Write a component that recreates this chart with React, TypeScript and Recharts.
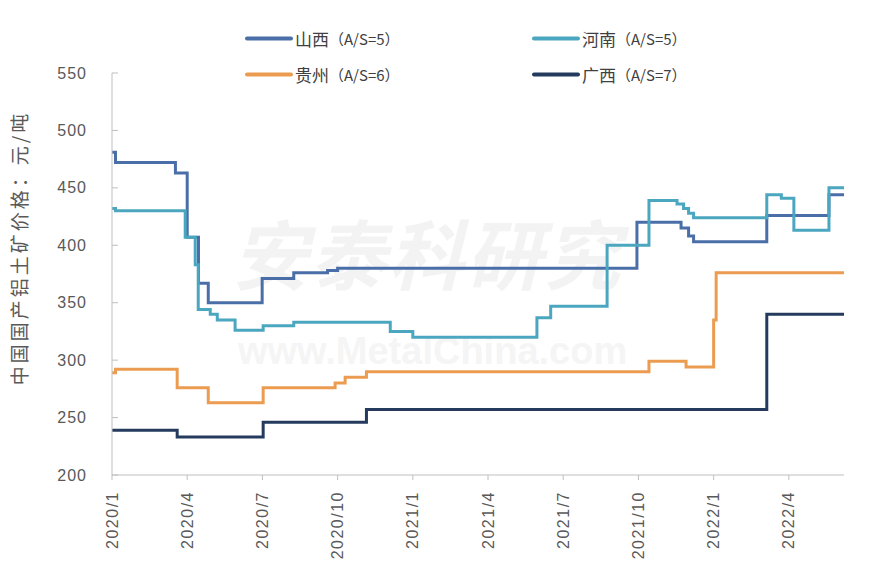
import React from 'react';
import { LineChart, Line, XAxis, YAxis } from 'recharts';

// x values are months counted from 2020/1 (0 = 2020/1, 3 = 2020/4 ...)
const quarterTicks = [0, 3, 6, 9, 12, 15, 18, 21, 24, 27];
const quarterLabels = ['2020/1', '2020/4', '2020/7', '2020/10', '2021/1', '2021/4', '2021/7', '2021/10', '2022/1', '2022/4'];
const priceTicks = [200, 250, 300, 350, 400, 450, 500, 550];

// 山西（A/S=5）
const shanxiMonths = [0, 0.14, 2.53, 3.0, 3.45, 3.84, 5.99, 7.25, 8.6, 9.0, 20.94, 22.5, 22.7, 23.0, 23.2, 26.12, 28.6, 29.2];
const shanxiPrices = [481, 472, 463, 407, 367, 350, 371, 376, 378, 380, 420, 420, 415, 408, 403, 426, 444, 444];

// 河南（A/S=5）
const henanMonths = [0, 0.14, 2.92, 3.32, 3.44, 3.92, 4.2, 4.91, 6.03, 7.25, 11.1, 12.0, 16.95, 17.5, 19.75, 21.42, 22.54, 22.8, 23.0, 23.2, 26.12, 26.7, 27.2, 28.6, 29.2];
const henanPrices = [432, 430, 407, 383, 344, 340, 335, 326, 330, 333, 325, 320, 337, 347, 400, 439, 436, 432, 428, 424, 444, 441, 413, 450, 450];

// 贵州（A/S=6）
const guizhouMonths = [0, 0.14, 2.6, 3.84, 6.03, 8.9, 9.3, 10.15, 21.42, 22.9, 24.0, 24.1, 29.2];
const guizhouPrices = [289, 292, 276, 263, 276, 280, 285, 290, 299, 294, 335, 376, 376];

// 广西（A/S=7）
const guangxiMonths = [0, 2.6, 6.03, 10.15, 26.12, 29.2];
const guangxiPrices = [239, 233, 246, 257, 340, 340];

const toRows = (months: number[], prices: number[]) => months.map((m, i) => ({ m, v: prices[i] }));

const series = [
  { name: '山西', tag: '（A/S=5）', color: '#4a6fa8', data: toRows(shanxiMonths, shanxiPrices) },
  { name: '河南', tag: '（A/S=5）', color: '#4ba6c0', data: toRows(henanMonths, henanPrices) },
  { name: '贵州', tag: '（A/S=6）', color: '#ec9c50', data: toRows(guizhouMonths, guizhouPrices) },
  { name: '广西', tag: '（A/S=7）', color: '#243b5e', data: toRows(guangxiMonths, guangxiPrices) },
];

const axisColor = '#bfbfbf';
const textColor = '#595959';

const YTick = (props: any) => {
  const { x, y, payload } = props;
  return (
    <g>
      <line x1={x + 25} x2={x + 31} y1={y} y2={y} stroke={axisColor} />
      <text
        x={x}
        y={y}
        textAnchor="end"
        dominantBaseline="central"
        fontSize={16}
        letterSpacing={1}
        fill={textColor}
      >
        {payload.value}
      </text>
    </g>
  );
};

const XTick = (props: any) => {
  const { x, y, payload } = props;
  const label = quarterLabels[quarterTicks.indexOf(payload.value)];
  return (
    <text
      x={x}
      y={y}
      transform={`rotate(-90, ${x}, ${y})`}
      textAnchor="end"
      dominantBaseline="central"
      fontSize={16}
      letterSpacing={1.5}
      fill={textColor}
    >
      {label}
    </text>
  );
};

export default function App() {
  return (
    <div
      style={{
        position: 'relative',
        width: 876,
        height: 581,
        margin: -8,
        background: '#fff',
        fontFamily: '"Liberation Sans", Arial, sans-serif',
      }}
    >
      {/* frame */}
      <div
        style={{
          position: 'absolute',
          left: 4,
          top: 3,
          width: 866,
          height: 569,
          border: '1px solid #d9d9d9',
          borderRadius: 3,
        }}
      />

      {/* watermark */}
      <div
        style={{
          position: 'absolute',
          left: 232,
          top: 196,
          fontSize: 76,
          fontWeight: 700,
          fontStyle: 'italic',
          fontFamily: '"Noto Sans CJK SC", sans-serif',
          color: '#f3f3f3',
          letterSpacing: 2,
          whiteSpace: 'nowrap',
        }}
      >
        安泰科研究
      </div>
      <div
        style={{
          position: 'absolute',
          left: 238,
          top: 330,
          fontSize: 38,
          fontWeight: 700,
          color: '#f5f5f5',
          whiteSpace: 'nowrap',
        }}
      >
        www.MetalChina.com
      </div>

      <div style={{ position: 'relative', zIndex: 1 }}>
        <LineChart width={876} height={581} margin={{ top: 73, right: 32, bottom: 0, left: 0 }}>
          <XAxis
            type="number"
            dataKey="m"
            domain={[0, 29.2]}
            ticks={quarterTicks}
            interval={0}
            allowDuplicatedCategory={false}
            height={106}
            stroke={axisColor}
            tickSize={5}
            tickMargin={11}
            tick={<XTick />}
          />
          <YAxis
            type="number"
            domain={[200, 550]}
            ticks={priceTicks}
            interval={0}
            width={112}
            stroke={axisColor}
            tickLine={false}
            tickSize={0}
            tickMargin={25}
            tick={<YTick />}
          />
          {series.map((s) => (
            <Line
              key={s.name}
              data={s.data}
              dataKey="v"
              type="stepAfter"
              stroke={s.color}
              strokeWidth={3}
              dot={false}
              isAnimationActive={false}
            />
          ))}
        </LineChart>
      </div>

      {/* y axis title */}
      <div
        style={{
          position: 'absolute',
          left: 18,
          top: 248,
          transform: 'translate(-50%, -50%) rotate(-90deg)',
          fontSize: 19,
          letterSpacing: 3,
          color: textColor,
          fontFamily: '"Noto Sans CJK SC", sans-serif',
          whiteSpace: 'nowrap',
          zIndex: 2,
        }}
      >
        中国国产铝土矿价格：元/吨
      </div>

      {/* legend */}
      {series.map((s, i) => {
        const col = i === 0 || i === 2 ? 0 : 1;
        const row = i < 2 ? 0 : 1;
        return (
          <div
            key={s.name}
            style={{
              position: 'absolute',
              left: col === 0 ? 245 : 532,
              top: row === 0 ? 38 : 74,
              transform: 'translateY(-50%)',
              display: 'flex',
              alignItems: 'center',
              zIndex: 2,
              whiteSpace: 'nowrap',
            }}
          >
            <span style={{ width: 48, height: 4, borderRadius: 2, background: s.color, display: 'inline-block' }} />
            <span style={{ fontSize: 17, color: '#404040', fontFamily: '"Noto Sans CJK SC", sans-serif', marginLeft: 2 }}>
              {s.name}
            </span>
            <span style={{ fontSize: 15, color: '#404040', fontFamily: '"Noto Sans CJK SC", sans-serif' }}>
              {s.tag}
            </span>
          </div>
        );
      })}
    </div>
  );
}
